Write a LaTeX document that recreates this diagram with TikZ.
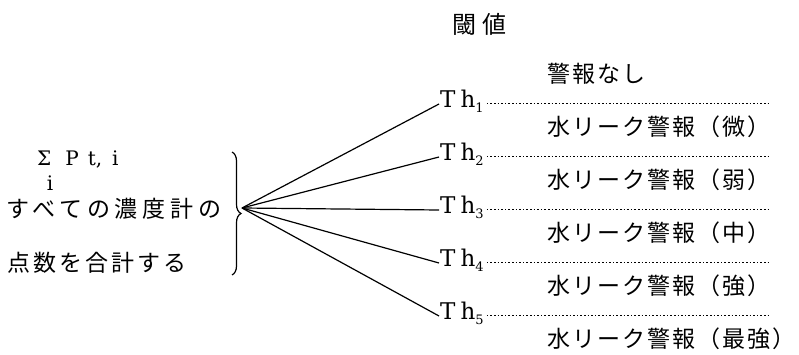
\documentclass[tikz,border=0pt]{standalone}
\usepackage{fontspec}
\newfontfamily\jp{Noto Sans CJK JP}[LetterSpace=9]
\newfontfamily\jpt{Noto Sans CJK JP}[LetterSpace=25]
\newfontfamily\jpa{Noto Sans CJK JP}[LetterSpace=21]
\newfontfamily\jpb{Noto Sans CJK JP}[LetterSpace=13]
\newfontfamily\ser{DejaVu Serif}
\usetikzlibrary{decorations.pathreplacing}
\begin{document}
\begin{tikzpicture}[x=1pt,y=-1pt,
  jptxt/.style={inner sep=0pt,anchor=west,font=\jp\fontsize{23}{23}\selectfont},
  thtxt/.style={inner sep=1pt,anchor=west,font=\ser\fontsize{23}{23}\selectfont},
  mathtxt/.style={inner sep=0pt,font=\ser\fontsize{20}{20}\selectfont},
  fan/.style={line width=1.2pt},
  dotline/.style={line width=0.8pt,dash pattern=on 1.6pt off 2pt}]
\useasboundingbox (0,0) rectangle (799,355);
% title
\node[inner sep=0pt,font=\jpt\fontsize{24}{24}\selectfont] (title) at (479,24) {閾値};
% left texts
\node[mathtxt,anchor=west] (sum) at (37,160) {Σ\kern14pt P\kern9pt t,\kern10pt i};
\node[mathtxt] (idx) at (50,183) {i};
\node[inner sep=0pt,anchor=west,font=\jpa\fontsize{23}{23}\selectfont] (l1) at (6,209) {すべての濃度計の};
\node[inner sep=0pt,anchor=west,font=\jpb\fontsize{23}{23}\selectfont] (l2) at (7,263) {点数を合計する};
% brace
\coordinate (btop) at (232,152);
\coordinate (bbot) at (232,275);
\draw[line width=1.2pt,decorate,decoration={brace,amplitude=9pt}] (btop) -- (bbot);
\coordinate (apex) at (242,208);
% thresholds
\foreach \i/\y in {1/101,2/154,3/207,4/260,5/313}{
  \node[thtxt] (th\i) at (439,\y) {T\kern5pt h\raisebox{-5pt}{\fontsize{13}{13}\selectfont\i}};
  \coordinate (e\i) at (768,\y+2);
  \draw[fan] (apex) -- ([yshift=-3pt]th\i.west);
  \draw[dotline] ([yshift=-2pt,xshift=2pt]th\i.east) -- (e\i);
}
% labels
\node[jptxt] (a0) at (547,74) {警報なし};
\node[jptxt] (a1) at (547,127) {水リーク警報（微）};
\node[jptxt] (a2) at (547,180) {水リーク警報（弱）};
\node[jptxt] (a3) at (547,233) {水リーク警報（中）};
\node[jptxt] (a4) at (547,286) {水リーク警報（強）};
\node[jptxt] (a5) at (547,339) {水リーク警報（最強）};
\end{tikzpicture}
\end{document}
